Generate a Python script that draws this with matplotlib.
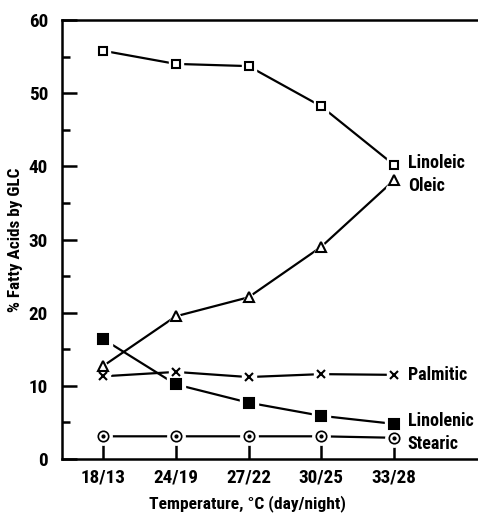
import matplotlib
matplotlib.use("Agg")
import matplotlib.pyplot as plt
from matplotlib import font_manager

# Day/night temperature regimes and fatty acid composition (% by GLC)
temps = ["18/13", "24/19", "27/22", "30/25", "33/28"]
linoleic = [55.8, 54.0, 53.7, 48.2, 40.2]
oleic = [12.7, 19.5, 22.1, 29.0, 38.1]
palmitic = [11.3, 11.9, 11.2, 11.6, 11.5]
linolenic = [16.4, 10.2, 7.7, 5.9, 4.8]
stearic = [3.1, 3.1, 3.1, 3.1, 2.9]
yticks = [0, 10, 20, 30, 40, 50, 60]

# prefer a narrow sans face when one is available
installed = {f.name for f in font_manager.fontManager.ttflist}
preferred = ["Liberation Sans Narrow", "DejaVu Sans Condensed", "Roboto Condensed",
             "Open Sans Condensed", "Noto Sans Condensed", "Roboto", "DejaVu Sans"]
FONT = [f for f in preferred if f in installed] + ["DejaVu Sans"]
NARROW = FONT[0] in ("Liberation Sans Narrow", "DejaVu Sans Condensed",
                     "Roboto Condensed", "Open Sans Condensed", "Noto Sans Condensed")
plt.rcParams["font.family"] = FONT
plt.rcParams["font.weight"] = "bold"
plt.rcParams["font.stretch"] = "condensed"

scale = 1.0 if NARROW else 0.85
fig = plt.figure(figsize=(4.78, 5.17), dpi=100)
ax = fig.add_axes([0.1297, 0.1122, 0.8703, 0.8491])

x = list(range(len(temps)))
LW = 1.6


def series(vals, marker, ms, filled=False, mew=1.5):
    ax.plot(x, vals, color="black", lw=LW, zorder=2, solid_capstyle="butt")
    # white halo leaves a small gap between line and marker
    ax.plot(x, vals, ls="none", marker=marker if marker != "x" else "s",
            ms=ms + 5, mfc="white", mec="white", zorder=3)
    ax.plot(x, vals, ls="none", marker=marker, ms=ms,
            mfc="black" if filled else "white", mec="black", mew=mew, zorder=4)


series(linoleic, "s", 5.5)
series(oleic, "^", 6.5)
series(palmitic, "x", 5.5)
series(linolenic, "s", 7.5, filled=True)
series(stearic, "o", 7.5, mew=1.2)
ax.plot(x, stearic, ls="none", marker="o", ms=2, color="black", zorder=5)

labels = [("Linoleic", linoleic[-1] + 0.25), ("Oleic", oleic[-1] - 0.8),
          ("Palmitic", palmitic[-1]), ("Linolenic", linolenic[-1] + 0.4),
          ("Stearic", stearic[-1] - 0.9)]
for text, yv in labels:
    ax.text(x[-1] + 0.19, yv, text, fontsize=13 * scale, fontweight="bold",
            va="center", ha="left", family=FONT)

ax.set_xlim(-0.564, 5.155)
ax.set_ylim(0, 60)
ax.set_xticks(x)
ax.set_xticklabels(temps)
ax.set_yticks(yticks)
ax.set_yticks([5, 15, 25, 35, 45, 55], minor=True)

ax.tick_params(axis="both", which="major", direction="in", length=11,
               width=1.8, labelsize=13.8 * scale)
ax.tick_params(axis="x", which="major", pad=7)
ax.tick_params(axis="y", which="major", pad=10)
ax.tick_params(axis="y", which="minor", direction="in", length=6, width=1.8)
for lab in ax.get_xticklabels() + ax.get_yticklabels():
    lab.set_fontweight("bold")

ax.spines["right"].set_visible(False)
for s in ("left", "top", "bottom"):
    ax.spines[s].set_linewidth(1.8)

ax.set_xlabel("Temperature, °C (day/night)", fontsize=12.6 * scale,
              fontweight="bold", labelpad=6)
ax.xaxis.label.set_x(0.445)
ax.set_ylabel("% Fatty Acids by GLC", fontsize=12.3 * scale, fontweight="bold",
              labelpad=4)

fig.savefig("out.png", dpi=100)
